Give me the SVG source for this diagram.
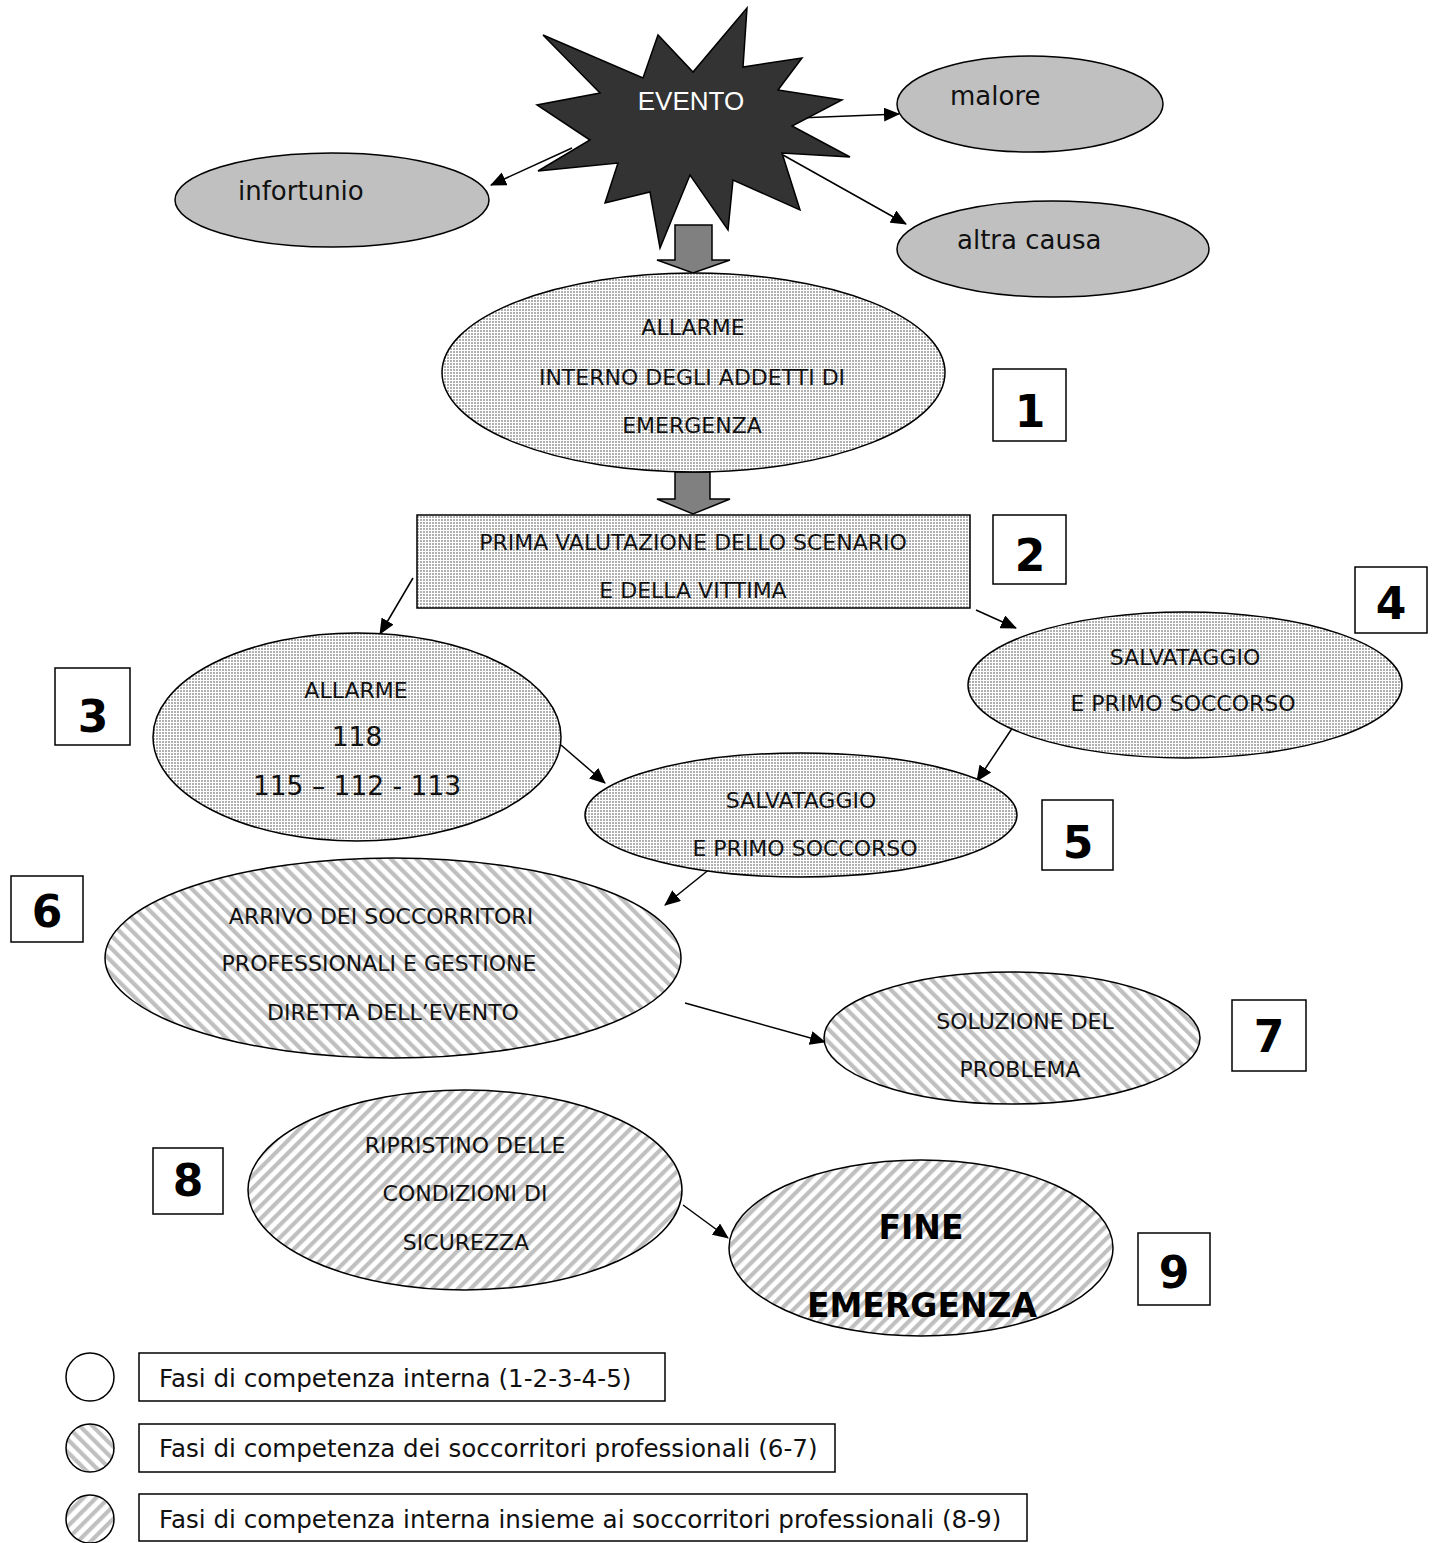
<svg xmlns="http://www.w3.org/2000/svg" width="1435" height="1543" viewBox="0 0 1435 1543">
<style>
.t{font-family:"DejaVu Sans",Verdana,sans-serif;font-size:22px;fill:#111;text-anchor:middle}
.big{font-size:26.5px}
.fin{font-size:33px;font-weight:bold;fill:#000}
.c{font-family:"DejaVu Sans",Verdana,sans-serif;font-size:26px;fill:#111}
.n{font-family:"DejaVu Sans",Verdana,sans-serif;font-size:44px;font-weight:bold;fill:#000;text-anchor:middle}
.lg{font-family:"DejaVu Sans",Verdana,sans-serif;font-size:24.6px;fill:#111}
.box{fill:#fff;stroke:#000;stroke-width:1.5}
.sh{stroke:#000;stroke-width:1.5}
.ln{stroke:#000;stroke-width:1.5;fill:none;marker-end:url(#ah)}
.blk{fill:#808080;stroke:#000;stroke-width:1.5}
</style>
<defs>
<pattern id="dots" width="3" height="3" patternUnits="userSpaceOnUse">
<rect width="3" height="3" fill="#fff"/><rect width="2" height="2" fill="#b0b0b0"/>
</pattern>
<pattern id="strA" width="9" height="9" patternUnits="userSpaceOnUse" patternTransform="rotate(-45)">
<rect width="9" height="9" fill="#fff"/><rect width="4.2" height="9" fill="#c0c0c0"/>
</pattern>
<pattern id="strB" width="9" height="9" patternUnits="userSpaceOnUse" patternTransform="rotate(45)">
<rect width="9" height="9" fill="#fff"/><rect width="4.2" height="9" fill="#c0c0c0"/>
</pattern>
<marker id="ah" markerWidth="16" markerHeight="14" refX="15" refY="7" orient="auto" markerUnits="userSpaceOnUse">
<path d="M0,0 L16,7 L0,14 Z" fill="#000"/>
</marker>
</defs>

<g id="connectors">
<line class="ln" x1="572" y1="148" x2="491" y2="185"/>
<line class="ln" x1="798" y1="118" x2="899" y2="114"/>
<line class="ln" x1="783" y1="155" x2="906" y2="224"/>
<line class="ln" x1="413" y1="578" x2="380" y2="634"/>
<line class="ln" x1="976" y1="610" x2="1016" y2="628"/>
<line class="ln" x1="561" y1="745" x2="605" y2="783"/>
<line class="ln" x1="1013" y1="727" x2="977" y2="781"/>
<line class="ln" x1="711" y1="868" x2="665" y2="905"/>
<line class="ln" x1="685" y1="1003" x2="825" y2="1042"/>
<line class="ln" x1="683" y1="1205" x2="728" y2="1238"/>
<path class="blk" d="M675,225 H712 V260 H730 L693,273 L657,260 H675 Z"/>
<path class="blk" d="M675,472 H710 V499 H730 L693,514 L657,499 H675 Z"/>
</g>

<g id="evento">
<path class="sh" fill="#333" d="M747,8 L743,67 L802,58 L778,90 L842,100 L792,126 L850,157 L782,153 L800,210 L733,180 L728,230 L690,175 L660,248 L650,192 L605,203 L618,163 L538,171 L590,140 L537,105 L600,93 L543,35 L643,78 L658,35 L693,72 Z"/>
<text x="691" y="110" font-family="'Liberation Sans',Arial,sans-serif" font-size="26" fill="#fff" text-anchor="middle">EVENTO</text>
</g>

<g id="infortunio">
<ellipse class="sh" fill="#c0c0c0" cx="332" cy="200" rx="157" ry="47"/>
<text class="c" x="238" y="200">infortunio</text>
</g>
<g id="malore">
<ellipse class="sh" fill="#c0c0c0" cx="1030" cy="104" rx="133" ry="48"/>
<text class="c" x="950" y="105">malore</text>
</g>
<g id="altra-causa">
<ellipse class="sh" fill="#c0c0c0" cx="1053" cy="249" rx="156" ry="48"/>
<text class="c" x="957" y="249">altra causa</text>
</g>

<g id="allarme-interno">
<ellipse class="sh" fill="url(#dots)" cx="693.5" cy="372.5" rx="251.5" ry="99.5"/>
<text class="t" x="693" y="335">ALLARME</text>
<text class="t" x="692" y="385">INTERNO DEGLI ADDETTI DI</text>
<text class="t" x="692" y="433">EMERGENZA</text>
</g>

<g id="valutazione">
<rect class="sh" fill="url(#dots)" x="417" y="515" width="553" height="93"/>
<text class="t" x="693" y="550">PRIMA VALUTAZIONE DELLO SCENARIO</text>
<text class="t" x="693" y="598">E DELLA VITTIMA</text>
</g>

<g id="allarme-118">
<ellipse class="sh" fill="url(#dots)" cx="357" cy="737" rx="204" ry="104"/>
<text class="t" x="356" y="698">ALLARME</text>
<text class="t big" x="357" y="746">118</text>
<text class="t big" x="357" y="795">115 – 112 - 113</text>
</g>

<g id="salvataggio-4">
<ellipse class="sh" fill="url(#dots)" cx="1185" cy="685" rx="217" ry="73"/>
<text class="t" x="1185" y="665">SALVATAGGIO</text>
<text class="t" x="1183" y="711">E PRIMO SOCCORSO</text>
</g>

<g id="salvataggio-5">
<ellipse class="sh" fill="url(#dots)" cx="801" cy="815" rx="216" ry="62"/>
<text class="t" x="801" y="808">SALVATAGGIO</text>
<text class="t" x="805" y="856">E PRIMO SOCCORSO</text>
</g>

<g id="arrivo">
<ellipse class="sh" fill="url(#strA)" cx="393" cy="958" rx="288" ry="100"/>
<text class="t" x="381" y="924">ARRIVO DEI SOCCORRITORI</text>
<text class="t" x="379" y="971">PROFESSIONALI E GESTIONE</text>
<text class="t" x="393" y="1020">DIRETTA DELL’EVENTO</text>
</g>

<g id="soluzione">
<ellipse class="sh" fill="url(#strA)" cx="1012" cy="1038" rx="188" ry="66"/>
<text class="t" x="1025" y="1029">SOLUZIONE DEL</text>
<text class="t" x="1020" y="1077">PROBLEMA</text>
</g>

<g id="ripristino">
<ellipse class="sh" fill="url(#strB)" cx="465" cy="1190" rx="217" ry="100"/>
<text class="t" x="465" y="1153">RIPRISTINO DELLE</text>
<text class="t" x="465" y="1201">CONDIZIONI DI</text>
<text class="t" x="466" y="1250">SICUREZZA</text>
</g>

<g id="fine">
<ellipse class="sh" fill="url(#strB)" cx="921" cy="1248" rx="192" ry="88"/>
<text class="t fin" x="921" y="1239">FINE</text>
<text class="t fin" x="922" y="1317">EMERGENZA</text>
</g>

<g id="num-1"><rect class="box" x="993" y="369" width="73" height="72"/><text class="n" x="1030" y="427">1</text></g>
<g id="num-2"><rect class="box" x="993" y="515" width="73" height="69"/><text class="n" x="1030" y="571">2</text></g>
<g id="num-3"><rect class="box" x="55" y="668" width="75" height="77"/><text class="n" x="93" y="732">3</text></g>
<g id="num-4"><rect class="box" x="1355" y="567" width="72" height="66"/><text class="n" x="1391" y="619">4</text></g>
<g id="num-5"><rect class="box" x="1042" y="800" width="71" height="70"/><text class="n" x="1078" y="858">5</text></g>
<g id="num-6"><rect class="box" x="11" y="876" width="72" height="66"/><text class="n" x="47" y="927">6</text></g>
<g id="num-7"><rect class="box" x="1232" y="1000" width="74" height="71"/><text class="n" x="1269" y="1052">7</text></g>
<g id="num-8"><rect class="box" x="153" y="1148" width="70" height="66"/><text class="n" x="188" y="1196">8</text></g>
<g id="num-9"><rect class="box" x="1138" y="1233" width="72" height="72"/><text class="n" x="1174" y="1288">9</text></g>

<g id="legend">
<circle class="sh" fill="#fff" cx="90" cy="1377" r="24"/>
<rect class="box" x="139" y="1353" width="526" height="48"/>
<text class="lg" x="159" y="1387">Fasi di competenza interna (1-2-3-4-5)</text>
<circle class="sh" fill="url(#strA)" cx="90" cy="1448" r="24"/>
<rect class="box" x="139" y="1424" width="696" height="48"/>
<text class="lg" x="159" y="1457">Fasi di competenza dei soccorritori professionali (6-7)</text>
<circle class="sh" fill="url(#strB)" cx="90" cy="1519" r="24"/>
<rect class="box" x="139" y="1494" width="888" height="47"/>
<text class="lg" x="159" y="1528">Fasi di competenza interna insieme ai soccorritori professionali (8-9)</text>
</g>
</svg>
